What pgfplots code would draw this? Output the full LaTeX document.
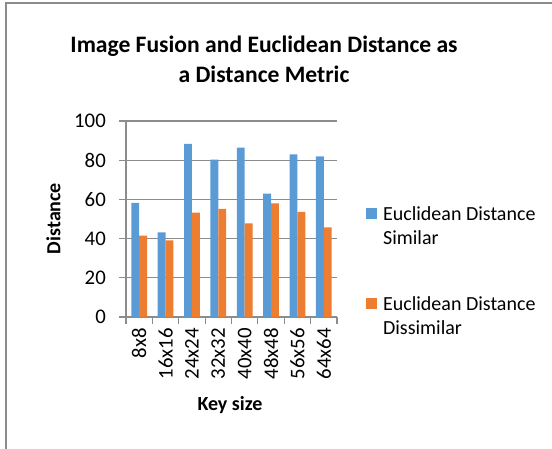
\documentclass[border=0pt]{standalone}
\usepackage{pgfplots}
\pgfplotsset{compat=1.18}
\usepackage{fontspec}
\setmainfont{Carlito}
\definecolor{cblue}{HTML}{5B9BD5}
\definecolor{corange}{HTML}{ED7D31}
\definecolor{cgray}{HTML}{8C8C8C}
\newcommand\f{\fontsize{20bp}{24bp}\selectfont}
\newcommand\fk{\fontsize{20.8bp}{24bp}\selectfont}
\newcommand\ft{\fontsize{23.6bp}{30bp}\selectfont\bfseries}
\begin{document}
\begin{tikzpicture}[x=1bp,y=1bp]
\useasboundingbox (0,0) rectangle (552,449);
\draw[cgray, line width=2bp] (5.5,0) -- (5.5,445.5) -- (552,445.5);
\begin{axis}[
  at={(126bp,132bp)}, anchor=south west,
  width=211bp, height=196bp, scale only axis,
  xmin=-0.5, xmax=7.5, ymin=0, ymax=100,
  axis x line*=bottom, axis y line*=left,
  axis line style={cgray, line width=1.2bp, -},
  every tick/.style={cgray, line width=1.2bp},
  ytick={0,20,...,100},
  ymajorgrids, grid style={cgray, line width=1.2bp},
  xtick={-0.5,0.5,...,7.5},
  xticklabels={},
  extra x ticks={0,1,2,3,4,5,6,7},
  extra x tick labels={8x8,16x16,24x24,32x32,40x40,48x48,56x56,64x64},
  extra x tick style={major tick length=0pt, xticklabel style={rotate=90, anchor=east, font=\fk, inner sep=0pt, xshift=-11bp}},
  tick align=outside,
  major tick length=7bp,
  /pgf/number format/assume math mode=true,
  yticklabel style={font=\fk, inner sep=0pt, xshift=-13bp},
  legend cell align=left,
  legend style={at={(1.137,0.2336)}, anchor=west, draw=none, fill=none,
    inner sep=0pt, font=\f, row sep=51bp, column sep=6bp,
    nodes={align=left, inner sep=0pt}},
  legend image code/.code={\fill[#1] (0bp,7.5bp) rectangle (11bp,18.5bp);},
]
\addplot[ybar, bar width=0.3, bar shift=-0.15, fill=cblue, draw=none]
  coordinates {(0,58.2) (1,43.2) (2,88.3) (3,80.3) (4,86.4) (5,62.9) (6,83) (7,82)};
\addlegendentry{Euclidean Distance\\Similar}
\addplot[ybar, bar width=0.3, bar shift=0.15, fill=corange, draw=none]
  coordinates {(0,41.5) (1,39.1) (2,53.2) (3,55.1) (4,47.8) (5,58) (6,53.6) (7,45.7)};
\addlegendentry{Euclidean Distance\\Dissimilar}
\end{axis}
\node[font=\ft, align=center, inner sep=0pt] at (264,389.5) {Image Fusion and Euclidean Distance as\\a Distance Metric};
\node[font=\f\bfseries, inner sep=0pt] at (230,44) {Key size};
\node[font=\f\bfseries, inner sep=0pt, rotate=90] at (53.5,230.5) {Distance};
\end{tikzpicture}
\end{document}
